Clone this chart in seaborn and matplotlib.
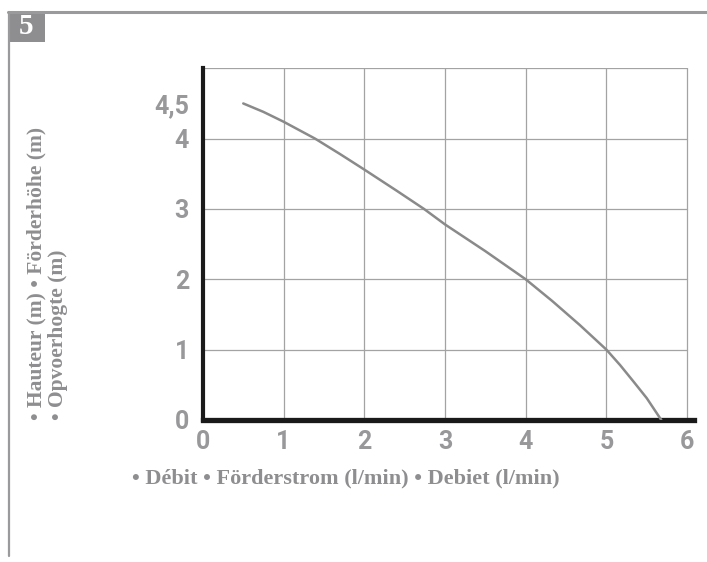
import matplotlib
matplotlib.use("Agg")
import pandas as pd
import seaborn as sns
import matplotlib.pyplot as plt
from matplotlib.lines import Line2D
from matplotlib.patches import Rectangle

# pump curve
flow = [0.5, 0.75, 1.0, 1.39, 1.7, 2.0, 2.4, 2.74, 3.0, 3.5, 4.0, 4.33, 4.67, 5.0, 5.17, 5.34, 5.5, 5.68]
head = [4.5, 4.38, 4.24, 4.0, 3.78, 3.56, 3.26, 3.0, 2.78, 2.4, 2.0, 1.69, 1.35, 1.0, 0.78, 0.54, 0.31, 0.0]

x_ticks = [0, 1, 2, 3, 4, 5, 6]
y_ticks = [0, 1, 2, 3, 4, 4.5]
y_tick_labels = ["0", "1", "2", "3", "4", "4,5"]
grid_y = [1, 2, 3, 4, 5]
grid_x = [1, 2, 3, 4, 5, 6]

df = pd.DataFrame({"flow": flow, "head": head})

sns.set_style("white")
grey = "#8e8e91"

fig = plt.figure(figsize=(7.07, 5.62), dpi=100)
ax = fig.add_axes([0.287, 0.2527, 0.694, 0.6258])

for gy in grid_y:
    ax.plot([0, 6], [gy, gy], color="#a3a3a3", lw=0.9, zorder=1)
for gx in grid_x:
    ax.plot([gx, gx], [0, 5], color="#a3a3a3", lw=0.9, zorder=1)

sns.lineplot(data=df, x="flow", y="head", ax=ax, color="#8a8a8a", lw=1.8, zorder=3)

ax.set_xlim(0, 6.08)
ax.set_ylim(0, 5)
ax.set_xticks(x_ticks)
ax.set_yticks(y_ticks)
ax.set_yticklabels(y_tick_labels)
ax.tick_params(length=0, labelsize=18, labelcolor="#98989b")
ax.tick_params(axis="y", pad=10)
ax.tick_params(axis="x", pad=7)
for lab in ax.get_xticklabels() + ax.get_yticklabels():
    lab.set_fontfamily(["Roboto", "DejaVu Sans"])
    lab.set_fontweight("bold")
for lab in ax.get_yticklabels():
    lab.set_va("center_baseline")

for s in ["top", "right"]:
    ax.spines[s].set_visible(False)
ax.spines["left"].set_color("#1a1a1a")
ax.spines["left"].set_linewidth(3)
ax.spines["bottom"].set_color("#1a1a1a")
ax.spines["bottom"].set_linewidth(3.8)
ax.set_xlabel("")
ax.set_ylabel("")

serif = ["Liberation Serif", "DejaVu Serif"]
fig.text(346 / 707, 1 - 478 / 562, "• Débit • Förderstrom (l/min) • Debiet (l/min)",
         ha="center", va="center", fontsize=16, fontweight="bold", color=grey, family=serif)
fig.text(26 / 707, 1 - 420 / 562, "• Hauteur (m) • Förderhöhe (m)\n• Opvoerhogte (m)",
         ha="left", va="bottom", rotation=90, fontsize=15.5, fontweight="bold", color=grey,
         family=serif, linespacing=1.1, multialignment="left")

# frame and section number
fig.add_artist(Line2D([8 / 707, 1], [1 - 12 / 562] * 2, color="#9a9a9c", lw=2.2))
fig.add_artist(Line2D([9 / 707] * 2, [1 - 12 / 562, 1 - 556 / 562], color="#9a9a9c", lw=1.6))
fig.add_artist(Rectangle((8 / 707, 1 - 42 / 562), 37 / 707, 30 / 562, color=grey, lw=0))
fig.text(26 / 707, 1 - 27 / 562, "5", ha="center", va="center", fontsize=21,
         fontweight="heavy", color="white", family=serif)

fig.savefig("out.png", dpi=100)
